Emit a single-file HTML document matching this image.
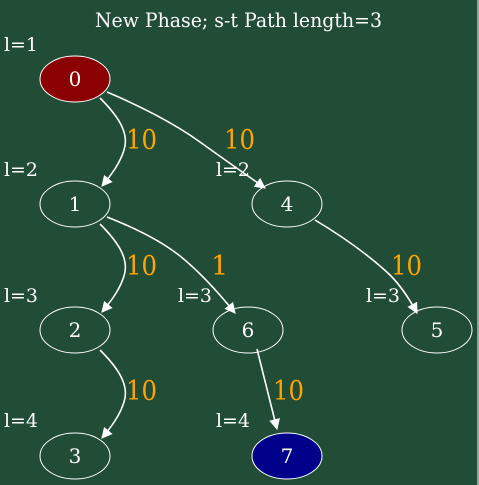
<!DOCTYPE html>
<html><head><meta charset="utf-8"><style>
html,body{margin:0;padding:0;background:#214c36;}
svg{display:block;}
text{font-family:"DejaVu Serif","Liberation Serif",serif;}
</style></head><body>
<svg width="479" height="485" viewBox="0 0 479 485" xmlns="http://www.w3.org/2000/svg">
<defs>
<marker id="a" viewBox="0 0 10 10" refX="9" refY="5" markerWidth="11" markerHeight="11" markerUnits="userSpaceOnUse" orient="auto">
<path d="M0,0 L10,5 L0,10 z" fill="#fff"/>
</marker>
</defs>
<rect width="479" height="485" fill="#214c36"/>
<rect x="477" y="0" width="2" height="485" fill="#8aa89a"/>
<text x="95" y="27" font-size="20" fill="#fff" textLength="287" lengthAdjust="spacingAndGlyphs">New Phase; s-t Path length=3</text>
<g font-size="19" fill="#fff">
<text x="4" y="51" textLength="34" lengthAdjust="spacingAndGlyphs">l=1</text>
<text x="4" y="176" textLength="34" lengthAdjust="spacingAndGlyphs">l=2</text><text x="216" y="176" textLength="34" lengthAdjust="spacingAndGlyphs">l=2</text>
<text x="4" y="302" textLength="34" lengthAdjust="spacingAndGlyphs">l=3</text><text x="178" y="302" textLength="34" lengthAdjust="spacingAndGlyphs">l=3</text><text x="366" y="302" textLength="34" lengthAdjust="spacingAndGlyphs">l=3</text>
<text x="4" y="427" textLength="34" lengthAdjust="spacingAndGlyphs">l=4</text><text x="216" y="427" textLength="34" lengthAdjust="spacingAndGlyphs">l=4</text>
</g>
<g fill="none" stroke="#fff" stroke-width="1.6" marker-end="url(#a)">
<path d="M100,98 C116,114 130,132 124,150 C120,163 112,174 102,186"/>
<path d="M100,224 C116,240 130,258 124,276 C120,289 112,300 102,312"/>
<path d="M100,350 C116,366 130,384 124,402 C120,415 112,426 102,438"/>
<path d="M107,92 C140,106 175,124 200,142 C225,160 248,176 265,188"/>
<path d="M107,217 C135,228 160,240 180,256 C200,272 218,292 235,313"/>
<path d="M315,220 C345,238 372,258 390,275 C400,285 410,300 417,313"/>
<path d="M257,349 L277,429"/>
</g>
<g stroke="#fff" stroke-width="1">
<ellipse cx="75" cy="79" rx="35" ry="23" fill="#8b0000"/>
<ellipse cx="75" cy="204" rx="35" ry="23" fill="none"/>
<ellipse cx="287" cy="204" rx="35" ry="23" fill="none"/>
<ellipse cx="75" cy="330" rx="35" ry="23" fill="none"/>
<ellipse cx="248" cy="330" rx="35" ry="23" fill="none"/>
<ellipse cx="437" cy="330" rx="35" ry="23" fill="none"/>
<ellipse cx="75" cy="456" rx="35" ry="23" fill="none"/>
<ellipse cx="287" cy="456" rx="35" ry="23" fill="#00008b"/>
</g>
<g font-size="20" fill="#fff" text-anchor="middle">
<text x="75" y="86">0</text>
<text x="75" y="211">1</text>
<text x="287" y="211">4</text>
<text x="75" y="337">2</text>
<text x="248" y="337">6</text>
<text x="437" y="337">5</text>
<text x="75" y="463">3</text>
<text x="287" y="463">7</text>
</g>
<g font-size="27" fill="#ffa500">
<text x="126" y="149" textLength="31" lengthAdjust="spacingAndGlyphs">10</text>
<text x="224" y="149" textLength="31" lengthAdjust="spacingAndGlyphs">10</text>
<text x="126" y="275" textLength="31" lengthAdjust="spacingAndGlyphs">10</text>
<text x="211" y="275">1</text>
<text x="391" y="275" textLength="31" lengthAdjust="spacingAndGlyphs">10</text>
<text x="126" y="400" textLength="31" lengthAdjust="spacingAndGlyphs">10</text>
<text x="273" y="400" textLength="31" lengthAdjust="spacingAndGlyphs">10</text>
</g>
</svg>
</body></html>
